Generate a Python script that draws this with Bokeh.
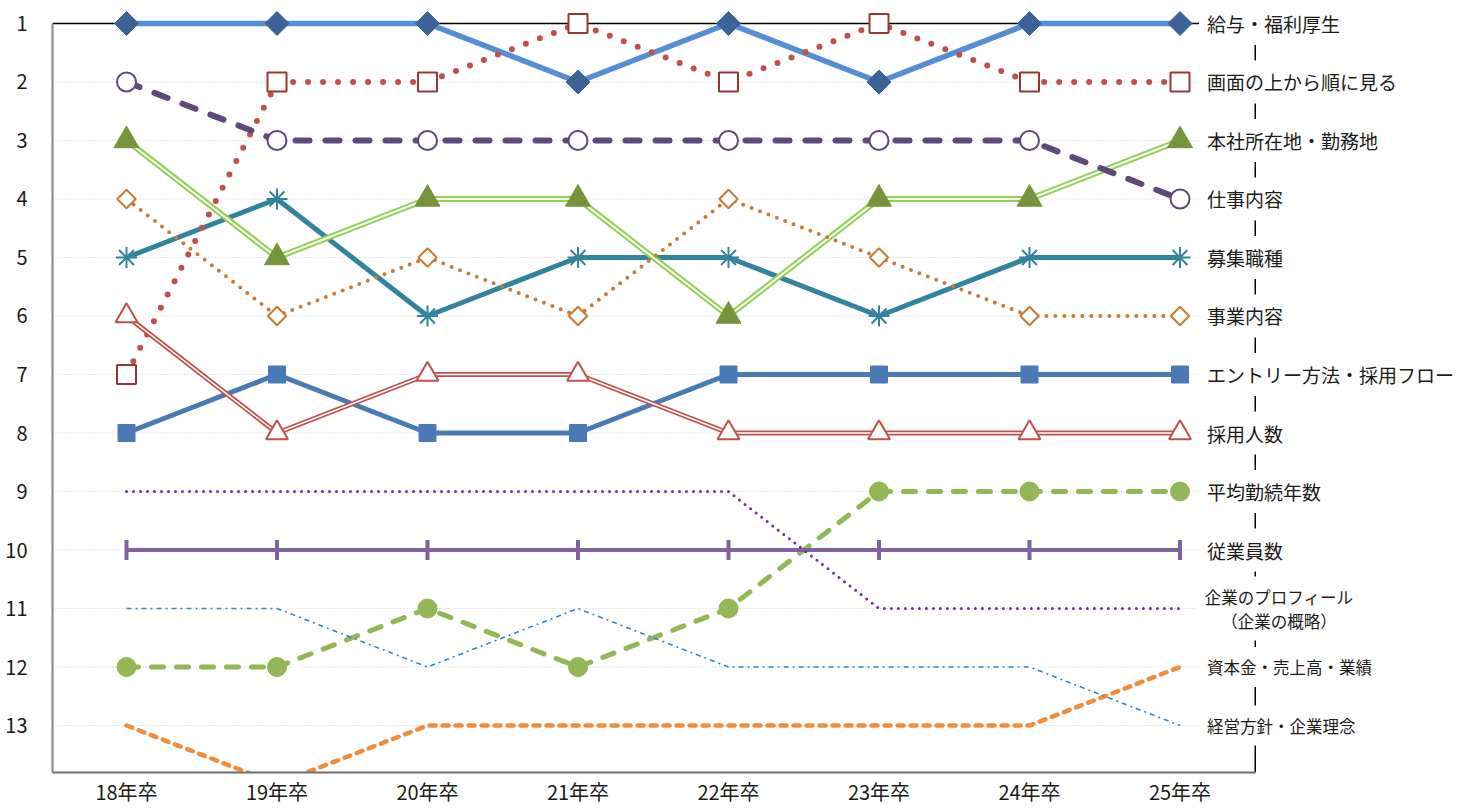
import numpy as np
from bokeh.plotting import figure
from bokeh.models import Range1d, Label, FixedTicker
from bokeh.embed import file_html
from bokeh.resources import INLINE

# ---------------- data ----------------
years = ["18年卒", "19年卒", "20年卒", "21年卒", "22年卒", "23年卒", "24年卒", "25年卒"]
rank_ticks = list(range(1, 14))

names = [
    "給与・福利厚生",
    "画面の上から順に見る",
    "本社所在地・勤務地",
    "仕事内容",
    "募集職種",
    "事業内容",
    "エントリー方法・採用フロー",
    "採用人数",
    "平均勤続年数",
    "従業員数",
    "企業のプロフィール\n（企業の概略）",
    "資本金・売上高・業績",
    "経営方針・企業理念",
]

kyuyo = [1, 1, 1, 2, 1, 2, 1, 1]
gamen = [7, 2, 2, 1, 2, 1, 2, 2]
honsha = [3, 5, 4, 4, 6, 4, 4, 3]
shigoto = [2, 3, 3, 3, 3, 3, 3, 4]
boshu = [5, 4, 6, 5, 5, 6, 5, 5]
jigyo = [4, 6, 5, 6, 4, 5, 6, 6]
entry = [8, 7, 8, 8, 7, 7, 7, 7]
saiyo = [6, 8, 7, 7, 8, 8, 8, 8]
kinzoku = [12, 12, 11, 12, 11, 9, 9, 9]
jugyoin = [10, 10, 10, 10, 10, 10, 10, 10]
profile = [9, 9, 9, 9, 9, 11, 11, 11]
shihon = [13, 14, 13, 13, 13, 13, 13, 12]
keiei = [11, 11, 12, 11, 12, 12, 12, 13]

series_all = [kyuyo, gamen, honsha, shigoto, boshu, jigyo, entry, saiyo,
              kinzoku, jugyoin, profile, shihon, keiei]
label_ranks = [s[-1] for s in series_all]

xi = list(range(len(years)))          # category positions on the x axis
X_START = -0.4917                     # left frame edge (half category)
X_EDGE = len(years) - 0.5             # right border line of the plot box
X_END = 8.877                         # frame extends under the labels
Y_BOTTOM = 13.803
Y_TOP = 0.761

FONT = "Noto Sans CJK JP"

p = figure(width=1462, height=810,
           x_range=Range1d(X_START, X_END),
           y_range=Range1d(Y_BOTTOM, Y_TOP),
           output_backend="svg", toolbar_location=None, title=None,
           min_border_left=52, min_border_right=0, min_border_top=9, min_border_bottom=38)
p.outline_line_color = None
p.background_fill_color = "white"
p.border_fill_color = "white"
p.xgrid.visible = False
p.ygrid.visible = False

# left axis
p.yaxis.ticker = FixedTicker(ticks=rank_ticks)
p.yaxis.major_tick_line_color = None
p.yaxis.minor_tick_line_color = None
p.yaxis.major_tick_out = 0
p.yaxis.major_tick_in = 0
p.yaxis.axis_line_color = "#868686"
p.yaxis.axis_line_width = 2
p.yaxis.bounds = (1, Y_BOTTOM)
p.yaxis.major_label_text_font = FONT
p.yaxis.major_label_text_font_size = "20px"
p.yaxis.major_label_text_color = "#1a1a1a"
p.yaxis.major_label_standoff = 25

# bottom axis
p.xaxis.ticker = FixedTicker(ticks=xi)
p.xaxis.major_label_overrides = {i: y for i, y in zip(xi, years)}
p.xaxis.major_tick_line_color = None
p.xaxis.minor_tick_line_color = None
p.xaxis.major_tick_out = 0
p.xaxis.major_tick_in = 0
p.xaxis.axis_line_color = "#6f6f6f"
p.xaxis.axis_line_width = 2
p.xaxis.bounds = (X_START, X_EDGE)
p.xaxis.major_label_text_font = FONT
p.xaxis.major_label_text_font_size = "20px"
p.xaxis.major_label_text_color = "#1a1a1a"
p.xaxis.major_label_standoff = 4

# horizontal dotted grid lines (stop under the labels)
p.segment(x0=[X_START] * 12, x1=[X_EDGE] * 12, y0=rank_ticks[1:], y1=rank_ticks[1:],
          line_color="#CFCFCF", line_dash="1 2", line_width=1, level="underlay")
# top black border at rank 1 and right border line
p.segment(x0=[X_START], x1=[X_EDGE], y0=[rank_ticks[0]], y1=[rank_ticks[0]],
          line_color="black", line_width=1.5, level="underlay")
p.segment(x0=[X_EDGE], x1=[X_EDGE], y0=[rank_ticks[0]], y1=[Y_BOTTOM],
          line_color="black", line_width=1.5, level="underlay")

# ---------------- series ----------------
# 募集職種
p.line(xi, boshu, line_color="#31849B", line_width=5, line_join="round")
p.scatter(xi, boshu, marker="asterisk", size=21, line_color="#31849B", line_width=2)

# 給与・福利厚生
p.line(xi, kyuyo, line_color="#558ED5", line_width=5.5, line_join="round")
p.scatter(xi, kyuyo, marker="square", angle=np.pi / 4, size=17,
          fill_color="#3B6397", line_color="#3B6397", line_width=1)

# 画面の上から順に見る
p.line(xi, gamen, line_color="#C0504D", line_width=6, line_dash="0 15", line_cap="round")
p.scatter(xi, gamen, marker="square", size=19, fill_color="white", line_color="#953735", line_width=2)

# 本社所在地・勤務地
p.line(xi, honsha, line_color="#92D050", line_width=6, line_join="round")
p.line(xi, honsha, line_color="white", line_width=2, line_join="round")
p.scatter(xi, honsha, marker="triangle", size=25, fill_color="#77933C", line_color="#77933C", line_width=1)

# 仕事内容
p.line(xi, shigoto, line_color="#5F497A", line_width=6, line_dash="14 16", line_cap="round")
p.scatter(xi, shigoto, marker="circle", size=19, fill_color="white", line_color="#5F497A", line_width=2)

# 事業内容
p.line(xi, jigyo, line_color="#C97A34", line_width=4, line_dash="0 9", line_cap="round")
p.scatter(xi, jigyo, marker="square", angle=np.pi / 4, size=13, fill_color="white",
          line_color="#C97A34", line_width=2)

# エントリー方法・採用フロー
p.line(xi, entry, line_color="#4A7AB5", line_width=5, line_join="round")
p.scatter(xi, entry, marker="square", size=17, fill_color="#4A7AB5", line_color="#4A7AB5", line_width=1)

# 採用人数
p.line(xi, saiyo, line_color="#C0504D", line_width=5, line_join="round")
p.line(xi, saiyo, line_color="white", line_width=1.5, line_join="round")
p.scatter(xi, saiyo, marker="triangle", size=22, fill_color="white", line_color="#C0504D", line_width=2)

# 平均勤続年数
p.line(xi, kinzoku, line_color="#93B656", line_width=5, line_dash="12 13", line_cap="round")
p.scatter(xi, kinzoku, marker="circle", size=19, fill_color="#93B656", line_color="#93B656")

# 従業員数
p.line(xi, jugyoin, line_color="#7F63A1", line_width=4)
p.scatter(xi, jugyoin, marker="dash", angle=np.pi / 2, size=20, line_color="#7F63A1", line_width=4)

# 企業のプロフィール
p.line(xi, profile, line_color="#7030A0", line_width=3, line_dash="0 7", line_cap="round")

# 資本金・売上高・業績
p.line(xi, shihon, line_color="#F08C3C", line_width=4.5, line_dash="6 7", line_cap="round")

# 経営方針・企業理念
p.line(xi, keiei, line_color="#2A86D1", line_width=1.6, line_dash="5 4 2 4")

# ---------------- right-hand labels ----------------
last_x = xi[-1]
for i, (nm, rk) in enumerate(zip(names, label_ranks)):
    small = i >= 10
    if "\n" in nm:
        lab = Label(x=last_x, y=rk, x_offset=99, text=nm, text_align="center", text_baseline="middle",
                    text_font=FONT, text_font_size="16.5px", text_color="#1a1a1a", text_line_height=1.0,
                    background_fill_color="white", padding=8)
    else:
        lab = Label(x=last_x, y=rk, x_offset=19, text=nm, text_align="left", text_baseline="middle",
                    text_font=FONT, text_font_size="16.5px" if small else "19px", text_color="#1a1a1a",
                    background_fill_color="white", padding=8)
    p.add_layout(lab)

open("out.html", "w").write(file_html(p, INLINE))
